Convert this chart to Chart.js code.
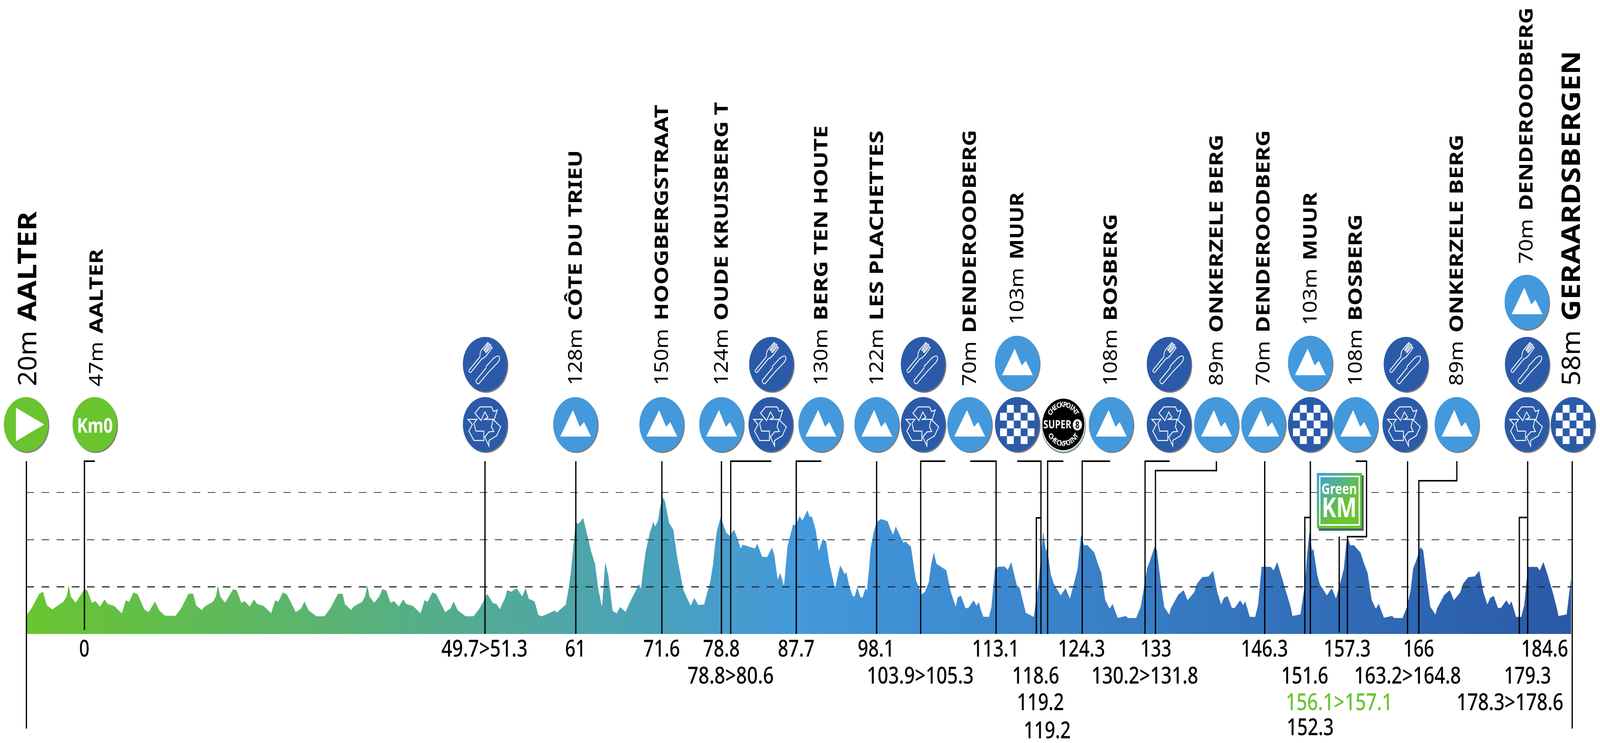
<!DOCTYPE html>
<html>
<head>
<meta charset="utf-8">
<title>Aalter - Geraardsbergen</title>
<script src="https://cdn.jsdelivr.net/npm/chart.js@4/dist/chart.umd.min.js"></script>
<style>
  html, body { margin: 0; padding: 0; background: #fff; overflow: hidden; }
</style>
</head>
<body>
<!-- drawn at the reference's 5030x1901 and fitted to the window, which may be narrower -->
<canvas id="profileChart" width="5030" height="1901" style="display:block;width:100vw;height:100vh"></canvas>
<script>
'use strict';

// Route profile
const profileKm = [-7.2,-7.12,-6.56,-5.62,-5.14,-4.66,-3.99,-2.59,-2.19,-1.96,-1.69,-1.09,0,0.36,0.94,1.36,1.92,2.49,2.89,3.68,4.64,5.14,5.54,6.08,6.6,7.44,7.96,8.76,9.28,10.01,11.3,12.02,12.91,13.5,13.87,14.54,14.92,15.96,16.32,16.57,16.86,17.45,18.45,18.91,19.47,19.87,20.52,21.02,21.42,22.21,23.17,23.67,24.05,24.61,25.12,26.22,26.89,27.29,27.83,28.79,29.78,30.49,31.45,32.03,32.32,33.08,33.39,34.48,34.83,35.1,35.37,35.96,36.59,36.98,37.44,37.99,38.4,39.01,39.55,39.93,40.74,41.71,42.21,42.58,43.17,43.65,44.76,45.42,45.8,46.34,47.3,48.27,49,49.69,49.96,50.69,51.13,51.53,52.22,52.45,52.95,53.61,54.32,54.74,55.14,55.87,56.29,56.69,57.42,58.36,58.61,59.72,60.07,60.34,60.6,60.76,60.97,61.31,61.87,62.48,62.87,63.35,63.73,64.17,64.25,64.61,65,65.53,66.05,66.47,67.13,67.7,68.81,69.04,69.29,69.62,70.16,70.6,70.81,71.17,71.38,71.73,72.02,72.55,73.07,73.55,73.92,74.3,74.76,75.22,75.68,76.14,76.89,77.12,77.62,77.98,78.21,78.46,78.94,79.65,80.07,80.3,80.61,80.97,81.43,81.68,83.2,83.49,84.1,84.71,85.31,85.58,86.02,86.34,86.8,87.23,87.92,88.26,88.74,89.07,89.72,89.97,90.26,90.72,91.12,91.6,92.02,92.39,93.13,93.48,93.77,94.07,94.36,94.53,94.86,95.3,95.55,95.88,96.3,96.55,96.93,97.07,97.35,97.55,97.93,98.29,98.85,99.66,99.96,100.33,100.67,101.21,101.67,101.84,102.55,103.03,103.2,103.68,103.82,104.3,104.76,105.08,105.39,105.72,106.94,107.48,108.11,108.34,108.75,109.32,109.69,110.34,110.68,110.97,111.22,111.53,112.22,112.54,112.74,112.97,113.39,114.21,114.56,115,115.67,116.05,116.8,117.8,118.09,118.34,118.62,118.95,119.31,119.45,119.91,120.27,120.64,121.14,121.73,122.28,122.86,123.22,123.66,124.01,124.45,125.31,125.7,126.18,126.66,127.21,127.56,127.86,128.21,129.19,129.48,130.49,131.05,131.49,131.85,132.18,132.76,133.06,133.52,133.98,134.6,134.77,135.71,136.38,136.88,137.7,138.05,138.7,139.47,140.04,140.58,141.04,141.39,141.83,142.38,142.73,143.4,143.78,144.03,144.59,145.26,145.61,146.07,147.22,147.54,148,148.56,149.19,149.71,149.88,150.88,151.4,151.69,151.99,152.32,152.47,152.99,153.28,154.16,154.77,155.29,155.88,156.25,156.69,157.07,157.51,158.34,158.74,159.22,159.72,160.24,160.6,160.89,161.24,162.25,162.52,163.54,164.09,164.55,164.86,165.21,165.78,166.11,166.57,166.99,167.64,167.81,168.72,169.41,169.92,170.71,171.06,171.71,172.49,173.07,173.59,174.07,174.43,174.87,175.39,175.77,176.43,176.81,177.06,177.63,178.27,178.65,179.11,180.26,180.57,181.03,181.58,182.2,182.74,182.89,183.91,184.46];
const profileAlt = [20.2,20.7,27.1,42.6,44.8,30.3,26,34.2,40.2,51.7,39.6,33.1,47.2,46.1,32.8,34.9,29,36.7,31.8,29.7,22,35.7,34,44,42.2,26,23.1,34.4,24.9,19.4,19.2,27.4,42.6,42.6,30.3,25.4,29,34.3,40,51.7,39.6,33.1,47.4,46.1,32.8,34.9,29,36.7,31.8,29.7,22,35.7,34,44,42,23.1,27,34.4,24.9,18.7,18.8,26.8,42.6,42.6,31.7,25.4,28.9,34.3,40,51.7,39.6,33.1,39.8,47.6,46.1,32.9,34.9,29,36.7,31.8,29.7,22,35.7,34,44.1,42.2,23.1,27,34.4,24.9,18.7,18.8,26.7,37.5,42.6,32.5,31.8,26.1,38.7,46.5,44.7,48.5,39.8,48.5,37.3,34.4,20.5,18.5,21,24.9,22.7,31,47.9,64.5,86.6,101.8,118.1,116.7,123.1,101.8,87.3,74.6,49.2,29.9,31,76.2,62.1,24.3,21.9,28.6,23.4,34,52.7,47.9,65.8,86.6,107.3,119.1,113.8,120.1,132.2,145.1,140.8,117.7,110.5,81.1,64.5,47,38.2,29.9,38.3,30.8,31.3,38.9,54.1,72.8,92.1,108.7,123.7,107.1,104,107.1,110.5,102.5,90.7,94.7,90.5,95.6,81.7,81.5,91.6,84.5,57.5,65,50.6,92.8,115.9,115.4,125,120.1,131.3,124.2,124.3,110.8,88.2,100.7,98.2,76.2,47.9,61.7,72.6,67.9,63.1,65.8,52.3,40.5,39.3,49.5,38.7,38.7,49,45.4,68.6,90.7,108,118.4,121.9,119.4,112.2,105.3,114,103.9,96.3,98.3,92.5,64.5,56.4,46.5,41.6,44.7,54.8,74.8,86.2,74.4,67.5,45.1,28.9,38.7,40.5,27.1,27.8,35.7,29.9,33.7,25.7,18.3,18.1,28.5,47.9,68.6,71.4,71.4,67.6,76.2,52,48.5,22.5,18,36.8,50.6,75.5,108.4,88,90.7,63.1,53.4,47.9,40.9,48.5,37.5,56.2,68.6,104.8,93.9,94.2,86.2,75.5,64.5,36.1,26.7,32,25,17,19.1,16.9,16.9,28.5,50.6,69.6,76.9,92.1,89.3,56.2,28.5,20.5,26.8,41.4,46.5,35.8,44.1,53.4,60.3,60.9,66.9,43.7,31.3,38.2,40.2,27.4,27.7,35.7,30.6,34.7,18.1,18,30.6,71.4,71.1,67.2,76.2,60.3,42.3,27.1,19.1,20.7,50.6,82.4,108,88,90.7,61.7,52.7,40.9,48.5,37.5,56.2,68.6,104.8,93.9,94.2,86.2,75.5,64.5,36.1,26.7,32,25,17.2,19.1,16.9,16.9,28.5,46.5,69.3,76.9,92.1,88.7,56.2,28.8,20.5,26.8,41.2,46.5,35.8,44.1,53.4,60.3,60.9,66.9,43.7,31.3,38.2,40.2,27.4,27.7,35.7,30.6,34.7,18.1,18,30.6,71.1,71.1,67.2,76.2,61.7,43.7,25.7,19.1,20.7,59.2];

// Elevation ticks
const altTicks = [50, 100, 150];

// Marker posts along the route, km as drawn
const markerKm = [-7.2,0,49.7,60.97,71.65,79.04,80.19,88.32,98.29,103.76,113.12,118.11,118.68,119.51,123.8,131.6,132.89,146.45,151.42,152.11,155.69,156.71,164.17,165.57,178.04,179.07,184.6];

// Km labels under the profile
const kmLabels = ['0','49.7>51.3','61','71.6','78.8','87.7','98.1','113.1','124.3','133','146.3','157.3','166','184.6','78.8>80.6','103.9>105.3','118.6','130.2>131.8','151.6','163.2>164.8','179.3','119.2','156.1>157.1','178.3>178.6','119.2','152.3'];

// Place names, regular part and bold part
const placeHeights = ['20m','47m','128m','150m','124m','130m','122m','70m','103m','108m','89m','70m','103m','108m','89m','70m','58m'];
const placeNames = ['AALTER','AALTER','CÔTE DU TRIEU','HOOGBERGSTRAAT','OUDE KRUISBERG T','BERG TEN HOUTE','LES PLACHETTES','DENDEROODBERG','MUUR','BOSBERG','ONKERZELE BERG','DENDEROODBERG','MUUR','BOSBERG','ONKERZELE BERG','DENDEROODBERG','GERAARDSBERGEN'];

// Layout only from here: pixel places of the decoration around the plot
const POST_TOP = 1180;
const BASE_Y = 1622;
// per marker: bottom y, then the bends of the leader (null x = the post itself)
const markerRoutes = [
  [1864, [null, POST_TOP]],
  [1612, [null, POST_TOP], [298, POST_TOP]],
  [BASE_Y, [null, POST_TOP]],
  [BASE_Y, [null, POST_TOP]],
  [BASE_Y, [null, POST_TOP]],
  [BASE_Y, [null, POST_TOP]],
  [BASE_Y, [null, POST_TOP], [2425, POST_TOP]],
  [BASE_Y, [null, POST_TOP], [2582, POST_TOP]],
  [BASE_Y, [null, POST_TOP]],
  [BASE_Y, [null, POST_TOP], [2972, POST_TOP]],
  [BASE_Y, [null, POST_TOP], [3050, POST_TOP]],
  [BASE_Y, [null, 1325], [3272, 1325]],
  [BASE_Y, [null, POST_TOP], [3198, POST_TOP]],
  [BASE_Y, [null, POST_TOP], [3343, POST_TOP]],
  [BASE_Y, [null, POST_TOP], [3490, POST_TOP]],
  [BASE_Y, [null, POST_TOP], [3677, POST_TOP]],
  [BASE_Y, [null, 1204], [3824, 1204], [3824, POST_TOP]],
  [BASE_Y, [null, POST_TOP]],
  [BASE_Y, [null, 1324], [4120, 1324]],
  [BASE_Y, [null, POST_TOP]],
  [1618, [null, 1373]],
  [BASE_Y, [null, 1373], [4296, 1373], [4296, POST_TOP], [4262, POST_TOP]],
  [BASE_Y, [null, POST_TOP]],
  [BASE_Y, [null, 1230], [4580, 1230], [4580, POST_TOP]],
  [BASE_Y, [null, 1324], [4802, 1324]],
  [BASE_Y, [null, POST_TOP]],
  [1864, [null, POST_TOP]]
];
const kmLabelPlaces = [
  [265,1659],[1523,1659],[1809,1659],[2080,1659],[2268,1659],[2503,1659],[2754,1659],[3130,1659],[3400,1659],[3634,1659],[3975,1659],[4235,1659],[4460,1659],[4856,1659],
  [2297,1728],[2893,1728],[3256,1728],[3599,1728],[4102,1728],[4425,1728],[4802,1728],
  [3271,1796],[4210,1796],[4747,1796],
  [3292,1868],[4119,1860]
];
const GREEN_LABEL = 22;
// centre x, bottom y, top y, font size
const placeSpots = [
  [85,988,541,80],[302,989,637,60],[1808,986,384,60],[2079,986,268,60],[2267,986,261,60],[2580,986,321,60],[2755,986,334,60],[3047,988,332,60],[3196,830,492,60],
  [3490,987,547,60],[3823,987,344,60],[3970,987,333,60],[4118,832,492,60],[4260,987,548,60],[4578,987,344,60],[4797,675,19,60],[4938,987,130,80]
];
const iconSpots = [
  ['start',82,1086],['km0',298,1086],
  ['recycle',1525,1086],['food',1525,932],
  ['climb',1809,1086],['climb',2080,1086],['climb',2268,1086],
  ['recycle',2423,1086],['food',2425,932],
  ['climb',2580,1086],['climb',2756,1086],
  ['recycle',2902,1086],['food',2902,932],
  ['climb',3048,1086],['check',3198,1086],['climb',3198,929],
  ['super8',3343,1086],['climb',3493,1086],
  ['recycle',3675,1086],['food',3675,932],
  ['climb',3824,1086],['climb',3972,1086],['check',4119,1086],['climb',4119,929],
  ['climb',4262,1086],['recycle',4416,1086],['food',4420,932],
  ['climb',4580,1086],['recycle',4800,1086],['food',4801,932],['climb',4800,773],
  ['check',4945,1086]
];

const GREEN = '#69c430';
const SKY = '#4399dc';
const NAVY = '#2b5ba8';
const FONT = '"Noto Sans", sans-serif';

function disc(ctx, x, y, color) {
  ctx.fillStyle = '#7d7d7d';
  ctx.beginPath(); ctx.arc(x + 3, y + 3, 70, 0, Math.PI * 2); ctx.fill();
  ctx.fillStyle = color;
  ctx.beginPath(); ctx.arc(x, y, 70, 0, Math.PI * 2); ctx.fill();
}

function poly(ctx, pts) {
  ctx.beginPath();
  pts.forEach((p, i) => i ? ctx.lineTo(p[0], p[1]) : ctx.moveTo(p[0], p[1]));
  ctx.closePath();
}

function squeezed(ctx, text, cx, baseY, font, sx, color) {
  ctx.save();
  ctx.font = font;
  ctx.fillStyle = color;
  ctx.textAlign = 'center';
  ctx.textBaseline = 'alphabetic';
  ctx.translate(cx, baseY);
  ctx.scale(sx, 1);
  ctx.fillText(text, 0, 0);
  ctx.restore();
}

// The reference's digits are tabular, so a label's width follows from its characters
function kmLabelWidth(text) {
  let w = 0;
  for (const ch of text) w += ch === '.' ? 18 : ch === '>' ? 40 : 32.5;
  return w;
}

function drawRecycle(ctx) {
  const arrows = [
    [[-32,-29],[-16,-45],[20,-45],[27,-33],[38,-37],[29,-13],[-2,-13],[9,-18],[-1,-32],[-13,-10]],
    [[-54,-13],[-26,-13],[-35,-3],[-29,17],[-4,17],[-4,41],[-35,41],[-51,17],[-40,0]],
    [[25,-13],[49,6],[36,29],[12,41],[12,55],[-1,32],[12,19],[27,18],[20,6]]
  ];
  ctx.strokeStyle = '#fff';
  ctx.lineWidth = 2.5;
  ctx.lineJoin = 'miter';
  arrows.forEach(a => { poly(ctx, a); ctx.stroke(); });
}

function drawFood(ctx) {
  ctx.rotate(Math.PI / 4);
  ctx.translate(0, -4);
  ctx.scale(1, 0.87);
  ctx.strokeStyle = '#fff';
  ctx.lineWidth = 2.5;
  // fork
  ctx.beginPath();
  ctx.moveTo(-25, 58);
  ctx.lineTo(-25, 2);
  ctx.quadraticCurveTo(-35, -8, -34, -22);
  ctx.lineTo(-33, -48);
  ctx.lineTo(-30, -48);
  ctx.lineTo(-29, -22);
  ctx.lineTo(-26, -22);
  ctx.lineTo(-26, -50);
  ctx.lineTo(-22, -50);
  ctx.lineTo(-22, -22);
  ctx.lineTo(-19, -22);
  ctx.lineTo(-18, -48);
  ctx.lineTo(-14, -48);
  ctx.lineTo(-13, -22);
  ctx.quadraticCurveTo(-12, -8, -17, 2);
  ctx.lineTo(-17, 58);
  ctx.quadraticCurveTo(-21, 64, -25, 58);
  ctx.stroke();
  // knife
  ctx.beginPath();
  ctx.moveTo(9, 62);
  ctx.lineTo(9, 10);
  ctx.lineTo(6, 6);
  ctx.lineTo(8, -30);
  ctx.quadraticCurveTo(11, -46, 17, -48);
  ctx.quadraticCurveTo(25, -46, 25, -30);
  ctx.lineTo(22, 10);
  ctx.lineTo(21, 62);
  ctx.quadraticCurveTo(15, 68, 9, 62);
  ctx.stroke();
}

function drawClimb(ctx) {
  ctx.fillStyle = '#fff';
  poly(ctx, [[-8,-37],[14,6],[27,-6],[49,31],[-48,31]]);
  ctx.fill();
}

function drawCheck(ctx) {
  const w = 21.6, h = 20;
  ctx.fillStyle = '#fff';
  for (let r = 0; r < 5; r++) {
    for (let c = 0; c < 5; c++) {
      if ((r + c) % 2 === 1) ctx.fillRect(-54 + c * w, -50 + r * h, w, h);
    }
  }
}

function curvedText(ctx, text, radius, top) {
  const step = 0.21;
  ctx.font = 'bold 19px ' + FONT;
  ctx.fillStyle = '#fff';
  ctx.textAlign = 'center';
  ctx.textBaseline = 'middle';
  for (let i = 0; i < text.length; i++) {
    const off = (i - (text.length - 1) / 2) * step;
    ctx.save();
    ctx.rotate(top ? off : -off);
    ctx.translate(0, top ? -radius : radius);
    ctx.fillText(text[i], 0, 0);
    ctx.restore();
  }
}

function drawSuper8(ctx, x, y) {
  ctx.fillStyle = '#86a09a';
  ctx.beginPath(); ctx.arc(x + 1, y + 4, 70, 0, Math.PI * 2); ctx.fill();
  ctx.fillStyle = '#fff';
  ctx.beginPath(); ctx.arc(x, y + 1, 68, 0, Math.PI * 2); ctx.fill();
  ctx.fillStyle = '#000';
  ctx.beginPath(); ctx.arc(x, y, 66, 0, Math.PI * 2); ctx.fill();
  ctx.save();
  ctx.translate(x, y);
  curvedText(ctx, 'CHECKPOINT', 50, true);
  curvedText(ctx, 'CHECKPOINT', 50, false);
  ctx.restore();
  squeezed(ctx, 'SUPER', x - 19, y + 10, 'bold 28px ' + FONT, 1, '#fff');
  ctx.fillStyle = '#fff';
  ctx.beginPath(); ctx.arc(x + 44, y + 1, 14.5, 0, Math.PI * 2); ctx.fill();
  squeezed(ctx, '8', x + 44, y + 10, 'bold 25px ' + FONT, 0.9, '#000');
}

function drawGreenKm(ctx) {
  ctx.fillStyle = '#3f6b63';
  ctx.fillRect(4146, 1216, 141, 142);
  const g = ctx.createLinearGradient(4140, 1210, 4281, 1352);
  g.addColorStop(0, '#3f9fe0');
  g.addColorStop(0.65, '#6cc42e');
  g.addColorStop(1, '#6cc42e');
  ctx.fillStyle = g;
  ctx.fillRect(4140, 1210, 141, 142);
  ctx.strokeStyle = '#fff';
  ctx.lineWidth = 4;
  ctx.strokeRect(4149, 1219, 124, 124);
  squeezed(ctx, 'Green', 4210, 1264, 'bold 38px ' + FONT, 0.98, '#fff');
  squeezed(ctx, 'KM', 4210, 1323, 'bold 70px ' + FONT, 0.98, '#fff');
}

function drawIcon(ctx, kind, x, y) {
  if (kind === 'super8') { drawSuper8(ctx, x, y); return; }
  const color = kind === 'climb' ? SKY : (kind === 'start' || kind === 'km0') ? GREEN : NAVY;
  disc(ctx, x, y, color);
  ctx.save();
  ctx.translate(x, y);
  if (kind === 'start') {
    ctx.fillStyle = '#fff';
    poly(ctx, [[-32,-43],[57,0],[-32,43]]);
    ctx.fill();
  } else if (kind === 'km0') {
    squeezed(ctx, 'Km0', 0, 21, 'bold 52px ' + FONT, 0.98, '#fff');
  } else if (kind === 'recycle') {
    drawRecycle(ctx);
  } else if (kind === 'food') {
    drawFood(ctx);
  } else if (kind === 'climb') {
    drawClimb(ctx);
  } else if (kind === 'check') {
    drawCheck(ctx);
  }
  ctx.restore();
}

function drawPlaceLabel(ctx, i) {
  const spot = placeSpots[i];
  const size = spot[3];
  const big = size === 80;
  const regular = size + 'px ' + FONT;
  const bold = 'bold ' + size + 'px ' + FONT;
  const digits = placeHeights[i].length - 1;
  // the height part runs wider than the name, so each gets its own fit
  const headLen = big ? digits * 40 + 62 : digits * 30 + 55;
  const gap = big ? 24 : 21;
  ctx.save();
  // baseline sits half a cap height right of the centre once rotated
  ctx.translate(spot[0] + size * 0.357, spot[1]);
  ctx.rotate(-Math.PI / 2);
  ctx.textAlign = 'left';
  ctx.textBaseline = 'alphabetic';
  ctx.fillStyle = '#000';
  ctx.font = regular;
  ctx.save();
  ctx.scale(headLen / ctx.measureText(placeHeights[i]).width, 1);
  ctx.fillText(placeHeights[i], 0, 0);
  ctx.restore();
  ctx.font = bold;
  ctx.translate(headLen + gap, 0);
  ctx.scale((spot[1] - spot[2] - headLen - gap) / ctx.measureText(placeNames[i]).width, 1);
  ctx.fillText(placeNames[i], 0, 0);
  ctx.restore();
}

// Posts, leaders, icons and every label around the plot
const stagePlugin = {
  id: 'stage',
  afterDraw(chart) {
    const ctx = chart.ctx;
    const xScale = chart.scales.x;
    ctx.save();
    ctx.strokeStyle = '#000';
    ctx.lineWidth = 4;
    ctx.lineJoin = 'miter';
    markerKm.forEach((km, i) => {
      const px = xScale.getPixelForValue(km);
      const route = markerRoutes[i];
      ctx.beginPath();
      ctx.moveTo(px, route[0]);
      route.slice(1).forEach(p => ctx.lineTo(p[0] === null ? px : p[0], p[1]));
      ctx.stroke();
    });
    drawGreenKm(ctx);
    iconSpots.forEach(s => drawIcon(ctx, s[0], s[1], s[2]));
    kmLabels.forEach((text, i) => {
      const place = kmLabelPlaces[i];
      const font = '500 59px ' + FONT;
      ctx.font = font;
      const sx = kmLabelWidth(text) / ctx.measureText(text).width;
      squeezed(ctx, text, place[0], place[1] + 21, font, sx, i === GREEN_LABEL ? GREEN : '#000');
    });
    placeNames.forEach((name, i) => drawPlaceLabel(ctx, i));
    ctx.restore();
  }
};

new Chart(document.getElementById('profileChart').getContext('2d'), {
  type: 'line',
  data: {
    datasets: [{
      label: 'Altitude',
      data: profileKm.map((km, i) => ({ x: km, y: profileAlt[i] })),
      fill: 'start',
      tension: 0,
      borderWidth: 0,
      pointRadius: 0,
      backgroundColor(context) {
        const area = context.chart.chartArea;
        if (!area) return GREEN;
        const g = context.chart.ctx.createLinearGradient(area.left, 0, area.right, 0);
        g.addColorStop(0, '#69c52f');
        g.addColorStop(0.5, '#4399dc');
        g.addColorStop(1, '#2a59a8');
        return g;
      }
    }]
  },
  options: {
    responsive: false,
    animation: false,
    devicePixelRatio: 1,
    layout: { padding: { left: 83, right: 87.4, top: 1260, bottom: 279 } },
    plugins: { legend: { display: false }, tooltip: { enabled: false } },
    scales: {
      x: { type: 'linear', display: false, min: -7.2, max: 184.6 },
      y: {
        min: 0,
        max: altTicks[altTicks.length - 1],
        afterFit(scale) { scale.width = 0; },
        afterBuildTicks(scale) { scale.ticks = altTicks.map(v => ({ value: v })); },
        ticks: { display: false },
        border: { display: false, dash: [24, 23.5] },
        grid: {
          z: 1,
          drawTicks: false,
          color: c => c.tick && c.tick.value === 150 ? '#444' : '#2f2f2f',
          lineWidth: c => c.tick && c.tick.value === 50 ? 3 : 2
        }
      }
    }
  },
  plugins: [stagePlugin]
});
</script>
</body>
</html>
